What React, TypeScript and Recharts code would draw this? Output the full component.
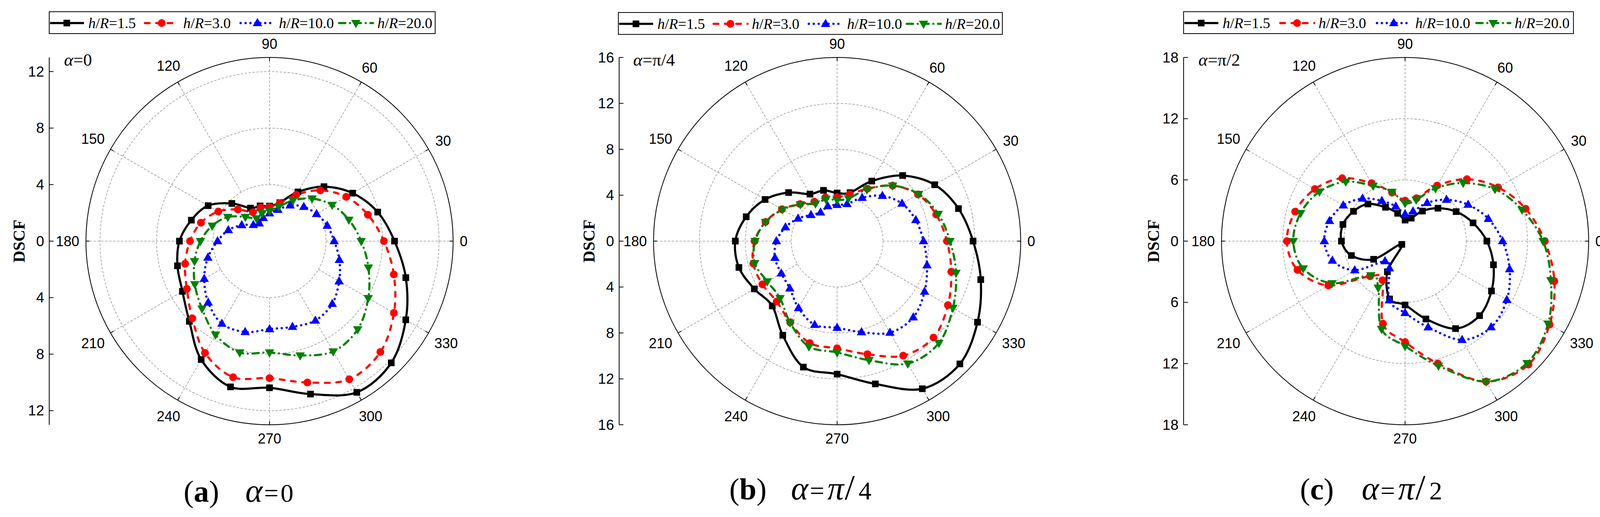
import React from 'react'
import {
  RadarChart,
  Radar,
  PolarGrid,
  PolarAngleAxis,
  PolarRadiusAxis,
  LineChart,
  XAxis,
  YAxis,
} from 'recharts'

// polar angles of the measured points (deg)
const ANGLES = [0, 15, 30, 45, 60, 75, 90, 105, 120, 135, 150, 165, 180, 195, 210, 225, 240, 255, 270, 285, 300, 315, 330, 345]
const ANGLE_LABELS = [0, 30, 60, 90, 120, 150, 180, 210, 240, 270, 300, 330]
const SERIES_NAMES = ['1.5', '3.0', '10.0', '20.0']

// (a) alpha = 0
const A_HR15 = [8.85, 7.93, 6.79, 5.45, 4.02, 2.82, 2.48, 2.58, 2.7, 3.77, 5.02, 5.73, 6.38, 6.75, 7.12, 8.03, 9.68, 10.68, 10.38, 11.21, 12.36, 12.19, 11.14, 9.99]
const A_HR30 = [8.1, 7.21, 6.27, 5.08, 3.79, 2.78, 2.41, 2.46, 2.36, 3.17, 4.19, 5.03, 5.63, 6.19, 6.76, 7.73, 9.14, 9.97, 9.7, 10.36, 11.29, 11.1, 10.17, 9.11]
const A_HR100 = [4.58, 4.23, 3.84, 3.43, 2.92, 2.3, 1.97, 1.7, 1.45, 1.62, 2.27, 3.02, 3.68, 4.52, 5.34, 6.14, 6.75, 6.66, 6.23, 6.28, 6.49, 6.28, 5.69, 5.12]
const A_HR200 = [6.49, 5.82, 5.12, 4.26, 3.32, 2.51, 2.12, 2.05, 1.85, 2.42, 3.41, 4.2, 4.89, 5.5, 6.11, 6.76, 7.65, 8.16, 7.88, 8.38, 9.02, 8.83, 8.07, 7.25]

// (b) alpha = pi/4
const B_HR15 = [11.85, 10.95, 9.82, 8.08, 6.04, 4.37, 4.19, 4.58, 4.73, 5.98, 7.25, 8.2, 8.87, 8.86, 8.33, 7.99, 9.47, 11.36, 11.59, 12.88, 14.85, 15.13, 14.13, 12.96]
const B_HR30 = [9.57, 8.94, 8.14, 6.84, 5.27, 4.22, 3.84, 3.94, 3.97, 4.56, 5.55, 6.46, 7.19, 7.56, 7.52, 7.44, 8.17, 9.2, 9.34, 10.2, 11.52, 11.88, 11.15, 10.3]
const B_HR100 = [7.53, 7.1, 6.53, 5.58, 4.36, 3.35, 3.16, 3.15, 2.89, 3.22, 3.93, 4.66, 5.29, 5.61, 5.62, 5.83, 6.73, 7.55, 7.55, 8.21, 9.21, 9.39, 8.8, 8.11]
const B_HR200 = [9.84, 9.13, 8.2, 6.84, 5.19, 3.85, 3.58, 3.78, 3.77, 4.53, 5.5, 6.45, 7.15, 7.43, 7.03, 7.03, 8.2, 9.51, 9.7, 10.74, 12.32, 12.55, 11.65, 10.73]

// (c) alpha = pi/2
const C_HR15 = [8.02, 6.9, 5.78, 4.56, 3.4, 2.33, 2.06, 2.82, 3.83, 5.15, 5.84, 6.31, 6.24, 5.45, 3.56, 0.45, 3.47, 5.87, 6.26, 7.9, 9.9, 10.33, 9.78, 8.97]
const C_HR30 = [13.7, 12.24, 10.53, 8.58, 6.29, 4.35, 3.97, 4.93, 6.56, 8.72, 10.21, 11.16, 11.59, 10.92, 8.69, 4.86, 4.43, 8.38, 9.89, 12.42, 15.89, 17.11, 16.36, 15.15]
const C_HR100 = [9.56, 8.45, 7.14, 5.74, 4.32, 3.02, 2.65, 3.52, 4.55, 5.9, 7.0, 7.67, 7.92, 7.38, 5.7, 2.78, 3.07, 6.0, 7.04, 8.74, 11.18, 11.93, 11.52, 10.61]
const C_HR200 = [13.53, 11.87, 10.18, 8.05, 5.97, 4.2, 3.72, 5.0, 6.26, 8.23, 9.69, 10.6, 10.96, 10.34, 8.27, 4.74, 5.27, 8.92, 10.29, 12.65, 15.9, 16.91, 16.19, 14.8]

// radial scale ticks per panel
const A_TICKS = [-12, -8, -4, 0, 4, 8, 12]
const B_TICKS = [-16, -12, -8, -4, 0, 4, 8, 12, 16]
const C_TICKS = [-18, -12, -6, 0, 6, 12, 18]
const A_RINGS = [4, 8, 12]
const B_RINGS = [4, 8, 12]
const C_RINGS = [6, 12]

const SERIF = "'Liberation Serif', 'Times New Roman', serif"
const SANS = "'Liberation Sans', Arial, sans-serif"
const GRID = '#9a9a9a'

const STYLES = [
  { color: '#000000', width: 5.5, dash: undefined, marker: 'square' },
  { color: '#ff0000', width: 5.5, dash: '12 17', marker: 'circle' },
  { color: '#0000ff', width: 6, dash: '0.1 12.5', marker: 'up' },
  { color: '#008000', width: 5.5, dash: '16 12 0.1 12', marker: 'down' },
]

// x of each legend entry inside the box
const LEGEND_X = [0, 243, 488, 740]

const CHART_W = 1400
const CHART_H = 1200
const LOCAL_CX = 690
const CY = 617
const R = 470
const YW = 156

// radar lays categories clockwise from the top, so rotate the rows to match
function buildRows(series: number[][]) {
  return ANGLES.map((_, i) => {
    const angle = (90 - 15 * i + 360) % 360
    const k = ANGLES.indexOf(angle)
    const row: Record<string, number> = { angle }
    series.forEach((s, j) => {
      row['s' + j] = s[k]
    })
    return row
  })
}

function closedSpline(pts: { x: number; y: number }[]) {
  const n = pts.length
  if (!n) return ''
  let d = `M${pts[0].x},${pts[0].y}`
  for (let i = 0; i < n; i++) {
    const p0 = pts[(i - 1 + n) % n]
    const p1 = pts[i]
    const p2 = pts[(i + 1) % n]
    const p3 = pts[(i + 2) % n]
    const c1x = p1.x + (p2.x - p0.x) / 6
    const c1y = p1.y + (p2.y - p0.y) / 6
    const c2x = p2.x - (p3.x - p1.x) / 6
    const c2y = p2.y - (p3.y - p1.y) / 6
    d += ` C${c1x},${c1y} ${c2x},${c2y} ${p2.x},${p2.y}`
  }
  return d + 'Z'
}

function Marker({ kind, x, y, color }: { kind: string; x: number; y: number; color: string }) {
  if (kind === 'square') return <rect x={x - 8.5} y={y - 8.5} width={17} height={17} fill={color} />
  if (kind === 'circle') return <circle cx={x} cy={y} r={10} fill={color} />
  if (kind === 'up') return <polygon points={`${x},${y - 13} ${x + 12},${y + 8} ${x - 12},${y + 8}`} fill={color} />
  return <polygon points={`${x},${y + 13} ${x + 12},${y - 8} ${x - 12},${y - 8}`} fill={color} />
}

function angleTick(props: any) {
  const v = Number(props.payload?.value)
  if (v % 30 !== 0) return <g />
  const rad = (v * Math.PI) / 180
  const c = Math.cos(rad)
  const s = Math.sin(rad)
  const label = String(v)
  const halfW = (label.length * 0.556 * 36) / 2
  const dist = R + 17 + halfW * Math.abs(c) + 18 * Math.abs(s)
  return (
    <g>
      <line
        x1={LOCAL_CX + R * c}
        y1={CY - R * s}
        x2={LOCAL_CX + (R - 9) * c}
        y2={CY - (R - 9) * s}
        stroke="#000"
        strokeWidth={2}
      />
      <text
        x={LOCAL_CX + dist * c}
        y={CY - dist * s}
        textAnchor="middle"
        dominantBaseline="central"
        fontSize={36}
        fontFamily={SANS}
        fill="#000"
      >
        {label}
      </text>
    </g>
  )
}

function radialTick(props: any) {
  const v = Number(props.payload?.value)
  return (
    <g>
      <line x1={YW} y1={props.y} x2={YW + 11} y2={props.y} stroke="#000" strokeWidth={2} />
      <text
        x={YW - 13}
        y={props.y}
        textAnchor="end"
        dominantBaseline="central"
        fontSize={37}
        fontFamily={SANS}
        fill="#000"
      >
        {Math.abs(v)}
      </text>
    </g>
  )
}

function LegendBox({ left, top, width }: { left: number; top: number; width: number }) {
  const k = width / 990
  return (
    <svg width={width} height={58} style={{ position: 'absolute', left, top, overflow: 'visible' }}>
      <rect x={1} y={1} width={width - 2} height={56} fill="none" stroke="#000" strokeWidth={2} />
      {SERIES_NAMES.map((name, i) => {
        const st = STYLES[i]
        const lx = LEGEND_X[i] * k
        return (
          <g key={name}>
            <line
              x1={lx + 3}
              y1={30}
              x2={lx + 90}
              y2={30}
              stroke={st.color}
              strokeWidth={st.width}
              strokeDasharray={st.dash}
              strokeLinecap={st.dash ? 'round' : 'butt'}
            />
            <Marker kind={st.marker} x={lx + 46} y={30} color={st.color} />
            <text x={lx + 101} y={43} fontFamily={SERIF} fontSize={38} fill="#000">
              <tspan fontStyle="italic">h</tspan>/<tspan fontStyle="italic">R</tspan>={name}
            </text>
          </g>
        )
      })}
    </svg>
  )
}

interface PanelProps {
  cx: number
  axisX: number
  max: number
  ticks: number[]
  rings: number[]
  series: number[][]
  legendLeft: number
  legendTop: number
  legendWidth: number
}

function Panel({ cx, axisX, max, ticks, rings, series, legendLeft, legendTop, legendWidth }: PanelProps) {
  const rows = buildRows(series)
  const ringPx = rings.map((v) => (R * v) / max)
  const chartLeft = cx - LOCAL_CX
  const axisRows = ticks.map((t) => ({ t }))
  const polarProps = {
    width: CHART_W,
    height: CHART_H,
    data: rows,
    cx: LOCAL_CX,
    cy: CY,
    outerRadius: R,
    startAngle: 90,
    endAngle: -270,
    margin: { top: 0, right: 0, bottom: 0, left: 0 },
  }
  return (
    <>
      {/* radial spokes start at the first ring, like the original */}
      <div style={{ position: 'absolute', left: chartLeft, top: 0 }}>
        <RadarChart {...polarProps} innerRadius={ringPx[0]}>
          <PolarGrid
            gridType="circle"
            polarAngles={ANGLE_LABELS}
            polarRadius={[R]}
            stroke={GRID}
            strokeWidth={1.6}
            strokeDasharray="6 4"
          />
        </RadarChart>
      </div>
      <div style={{ position: 'absolute', left: chartLeft, top: 0 }}>
        <RadarChart {...polarProps} innerRadius={0}>
          <PolarGrid
            gridType="circle"
            radialLines={false}
            polarRadius={ringPx}
            stroke={GRID}
            strokeWidth={1.6}
            strokeDasharray="6 4"
          />
          <PolarAngleAxis
            dataKey="angle"
            axisLineType="circle"
            axisLine={{ stroke: '#000', strokeWidth: 2 }}
            tickLine={false}
            tick={angleTick}
          />
          <PolarRadiusAxis type="number" domain={[0, max]} tick={false} axisLine={false} tickLine={false} />
          {SERIES_NAMES.map((name, i) => {
            const st = STYLES[i]
            return (
              <Radar
                key={name}
                name={`h/R=${name}`}
                dataKey={'s' + i}
                stroke={st.color}
                fill="none"
                isAnimationActive={false}
                shape={(p: any) => (
                  <path
                    d={closedSpline(p.points || [])}
                    fill="none"
                    stroke={st.color}
                    strokeWidth={st.width}
                    strokeDasharray={st.dash}
                    strokeLinecap={st.dash ? 'round' : 'butt'}
                    strokeLinejoin="round"
                  />
                )}
                dot={(p: any) => (
                  <Marker key={`m-${i}-${p.index}`} kind={st.marker} x={p.cx} y={p.cy} color={st.color} />
                )}
              />
            )
          })}
        </RadarChart>
      </div>
      <div style={{ position: 'absolute', left: axisX - YW, top: 0 }}>
        <LineChart
          width={YW + 20}
          height={CHART_H}
          data={axisRows}
          margin={{ top: CY - R, bottom: CHART_H - CY - R, left: 0, right: 20 }}
        >
          <XAxis dataKey="t" hide height={0} />
          <YAxis
            type="number"
            domain={[-max, max]}
            ticks={ticks}
            interval={0}
            allowDataOverflow
            width={YW}
            axisLine={{ stroke: '#000', strokeWidth: 2 }}
            tickLine={false}
            tick={radialTick}
            label={{
              value: 'DSCF',
              angle: -90,
              position: 'center',
              fontFamily: SERIF,
              fontWeight: 'bold',
              fontSize: 42,
              fill: '#000',
            }}
          />
        </LineChart>
      </div>
      <LegendBox left={legendLeft} top={legendTop} width={legendWidth} />
    </>
  )
}

// caption math: large italic alpha / pi, tall slash
function CaptionMath({ x, y, tail }: { x: number; y: number; tail: string | null }) {
  return (
    <text x={x} y={y} fontFamily={SERIF} fill="#000">
      <tspan fontSize={84} fontStyle="italic">α</tspan>
      <tspan fontSize={66} dx={4}>=</tspan>
      {tail === null ? (
        <tspan fontSize={66} dx={5}>0</tspan>
      ) : (
        <>
          <tspan fontSize={84} fontStyle="italic" dx={8}>π</tspan>
          <tspan fontSize={92} dx={2}>/</tspan>
          <tspan fontSize={66} dx={10}>{tail}</tspan>
        </>
      )}
    </text>
  )
}

export default function App() {
  return (
    <div
      style={{
        position: 'absolute',
        left: 0,
        top: 0,
        width: 4120,
        height: 1323,
        background: '#fff',
        overflow: 'hidden',
        fontFamily: SANS,
      }}
    >
      <Panel cx={690} axisX={126} max={13} ticks={A_TICKS} rings={A_RINGS}
        series={[A_HR15, A_HR30, A_HR100, A_HR200]} legendLeft={125} legendTop={29} legendWidth={990} />
      <Panel cx={2143} axisX={1585} max={16} ticks={B_TICKS} rings={B_RINGS}
        series={[B_HR15, B_HR30, B_HR100, B_HR200]} legendLeft={1582} legendTop={31} legendWidth={985} />
      <Panel cx={3597} axisX={3030} max={18} ticks={C_TICKS} rings={C_RINGS}
        series={[C_HR15, C_HR30, C_HR100, C_HR200]} legendLeft={3029} legendTop={29} legendWidth={1000} />
      <svg width={4120} height={1323} style={{ position: 'absolute', left: 0, top: 0, pointerEvents: 'none' }}>
        <g fontFamily={SERIF} fill="#000">
          <text x={164} y={168} fontSize={45}><tspan fontStyle="italic">α</tspan>=0</text>
          <text x={1621} y={168} fontSize={45}><tspan fontStyle="italic">α</tspan>=π/4</text>
          <text x={3068} y={168} fontSize={45}><tspan fontStyle="italic">α</tspan>=π/2</text>

          <text x={470} y={1284} fontSize={78}>(<tspan fontWeight="bold">a</tspan>)</text>
          <text x={1867} y={1278} fontSize={78}>(<tspan fontWeight="bold">b</tspan>)</text>
          <text x={3328} y={1278} fontSize={78}>(<tspan fontWeight="bold">c</tspan>)</text>
        </g>
        <CaptionMath x={628} y={1284} tail={null} />
        <CaptionMath x={2025} y={1278} tail="4" />
        <CaptionMath x={3486} y={1278} tail="2" />
      </svg>
    </div>
  )
}
